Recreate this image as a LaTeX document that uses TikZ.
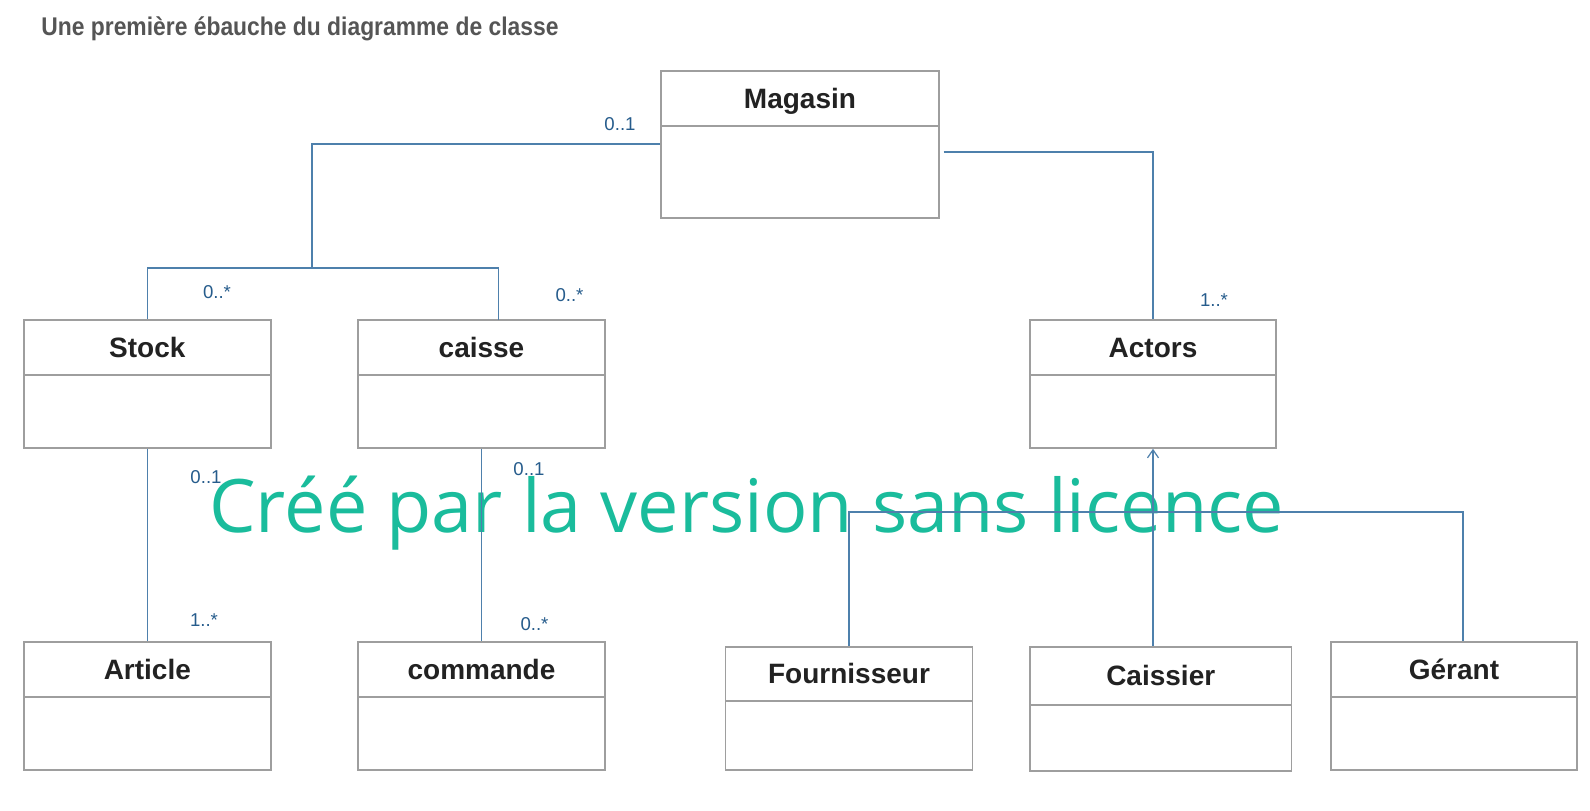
\documentclass[tikz,border=0pt]{standalone}
\usepackage{fontspec}
\setmainfont{Liberation Sans}
\newfontfamily\wmfont{Open Sans}
\usetikzlibrary{arrows.meta}
\definecolor{boxgray}{RGB}{158,158,158}
\definecolor{namecol}{RGB}{34,34,34}
\definecolor{multcol}{RGB}{38,92,140}
\definecolor{linecol}{RGB}{78,128,172}
\definecolor{titlecol}{RGB}{85,85,85}
\definecolor{wmcol}{RGB}{26,188,156}
\tikzset{
  clsbox/.style={draw=boxgray, line width=0.8pt, fill=white, inner sep=0pt, rectangle},
  divline/.style={draw=boxgray, line width=0.8pt},
  clsname/.style={font=\bfseries\fontsize{14pt}{16pt}\selectfont, text=namecol, inner sep=0pt, anchor=base},
  mult/.style={font=\fontsize{9.3pt}{11pt}\selectfont, text=multcol, inner sep=0pt},
  assoc/.style={draw=linecol, line width=0.65pt},
  genarrow/.style={-{Straight Barb[length=4pt,width=5.5pt,line width=0.6pt]}},
}
% #1 name, #2 left, #3 top, #4 right, #5 divider, #6 bottom, #7 text
\newcommand\umlcls[7]{%
  \node[clsbox, minimum width={(#4-#2)*0.5pt}, minimum height={(#6-#3)*0.5pt}] (#1) at ({(#2+#4)/2},{(#3+#6)/2}) {};
  \draw[divline] ({#2},{#5}) -- ({#4},{#5});
  \node[clsname] (#1-t) at ({(#2+#4)/2},{(#3+#5)/2+10}) {#7};
}
\begin{document}
\begin{tikzpicture}[x=0.5pt,y=-0.5pt]
\fill[white] (0,0) rectangle (1590,810);
\useasboundingbox (0,0) rectangle (1590,810);

% title
\node[anchor=base west, inner sep=0pt, text=titlecol, font=\bfseries\fontsize{12.8pt}{14pt}\selectfont] (title) at (41,35) {\scalebox{0.893}[1]{Une première ébauche du diagramme de classe}};

% watermark
\node[anchor=base west, inner sep=0pt, text=wmcol, font=\wmfont\fontsize{36.9pt}{40pt}\selectfont] (wm) at (209,532) {Créé par la version sans licence};

% junction coordinates
\coordinate (cA) at (312,144);
\coordinate (tA) at (312,268);
\coordinate (cT) at (498.5,320);
\coordinate (mR) at (943.5,152);
\coordinate (gR) at (1463,512);

% classes
\umlcls{magasin}{661}{71}{939}{126}{218}{Magasin}
\umlcls{stock}{23.7}{319.7}{271}{374.7}{447.7}{Stock}
\umlcls{caisse}{358}{320}{605}{375}{448}{caisse}
\umlcls{actors}{1030}{320}{1276}{375}{448}{Actors}
\umlcls{article}{23.7}{641.7}{271}{696.7}{770}{Article}
\umlcls{commande}{358}{642}{605}{697}{770}{commande}
\umlcls{fournisseur}{725.5}{646.7}{972.5}{701}{770}{Fournisseur}
\umlcls{caissier}{1030}{646.7}{1291.5}{705}{771}{Caissier}
\umlcls{gerant}{1331}{642}{1577}{697}{770}{Gérant}

% connectors
\draw[assoc] (magasin.west |- cA) -- (cA) -- (tA);
\draw[assoc] (stock.north) |- (tA);
\draw[assoc] (cT) |- (tA);
\draw[assoc] (mR) -| (actors.north);
\draw[assoc] (stock.south) -- (article.north);
\draw[assoc] (caisse.south) -- (commande.north);
\draw[assoc] (fournisseur.north) -- (fournisseur.north |- gR) -- (gR) -- (gR |- gerant.north);
\draw[assoc, genarrow] (caissier.north -| actors.south) -- (actors.south);

% multiplicities
\node[mult] (m1) at (620,124) {0..1};
\node[mult] (m2) at (217,292) {0..*};
\node[mult] (m3) at (569.5,295) {0..*};
\node[mult] (m4) at (1214,300) {1..*};
\node[mult] (m5) at (206,477) {0..1};
\node[mult] (m6) at (204,620) {1..*};
\node[mult] (m7) at (529,469) {0..1};
\node[mult] (m8) at (534.5,624) {0..*};
\end{tikzpicture}
\end{document}
